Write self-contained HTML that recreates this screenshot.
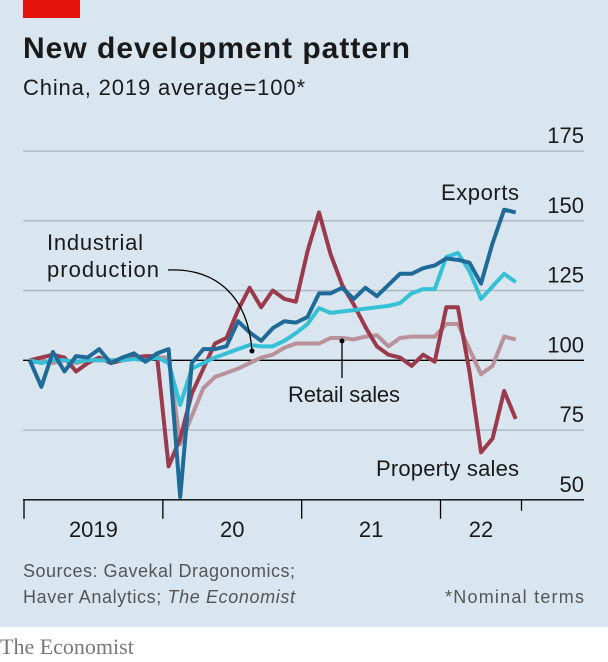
<!DOCTYPE html>
<html><head><meta charset="utf-8"><style>
body{margin:0;width:608px;height:662px;overflow:hidden;background:#fff;font-family:"Liberation Sans",sans-serif}
#bg{position:absolute;left:0;top:0;width:608px;height:627px;background:#d9e6ef}
</style></head><body>
<div id="bg"></div>
<svg width="608" height="662" style="position:absolute;left:0;top:0">
<rect x="23" y="0" width="57" height="18" fill="#e3120b"/>
<text x="23" y="58" font-size="30" font-weight="bold" fill="#1a1a1a" textLength="387">New development pattern</text>
<text x="23" y="95" font-size="22" fill="#1a1a1a" textLength="282">China, 2019 average=100*</text>
<g id="grid"></g>
<g id="lines"></g>
<g id="ann" font-size="22" fill="#1a1a1a">
<text x="441" y="200" textLength="78">Exports</text>
<text x="47" y="250" textLength="96">Industrial</text>
<text x="47" y="277" textLength="112">production</text>
<path d="M168,270 C215,268 248,295 252,351" fill="none" stroke="#000" stroke-width="1.3"/>
<circle cx="252" cy="351" r="2.5" fill="#000"/>
<text x="288" y="402" textLength="112">Retail sales</text>
<line x1="342" y1="378" x2="342" y2="341" stroke="#000" stroke-width="1.3"/>
<circle cx="342" cy="341" r="2.5" fill="#000"/>
<text x="376" y="476" textLength="143">Property sales</text>
</g>
<g id="xaxis" font-size="22" fill="#1a1a1a"></g>
<text x="23" y="577" font-size="18" fill="#555" textLength="272">Sources: Gavekal Dragonomics;</text>
<text x="23" y="603" font-size="18" fill="#555" textLength="272">Haver Analytics; <tspan font-style="italic">The Economist</tspan></text>
<text x="584" y="603" font-size="18" fill="#555" text-anchor="end" textLength="139">*Nominal terms</text>
<text x="0" y="654" font-size="22" fill="#777" font-family="Liberation Serif,serif">The Economist</text>
</svg>
<script>
const yTicks=[50,75,100,125,150,175];
const years=["2019","20","21","22"];
const exportsV=[100,90.5,103,96,101.5,101,104,99,101,102.5,99.5,102.5,104,51,99,104,104,105,114,110,107,111.5,114,113.5,115.5,124,124,126,122,126,123,127,131,131,133,134,136.5,136,135,127.5,142,154,153];
const industrialV=[100,99,100,100,99.5,100,100,100,100,100.5,100,101,99,84,97,99,101,102.5,104,105.5,105,105,107,109.7,113,118.7,117,117.5,118,118.5,119,119.5,120.5,124,125.5,125.5,137,138.5,132,122,126.5,131,128];
const retailV=[99,100,99,100,99,100,100,100,100,100.5,100,101,101,70,80,90,94,95.5,97,99,101,102,104.5,106,106,106,108,108,107.5,108.5,109,105,108,108.5,108.5,108.5,113,113,104,95,98,108.5,107.5];
const propertyV=[100,101,102,101,96,99,101,99,100,101,101.5,101.5,62,72,88,97,106,108,118,126,119,125,122,121,139,153,138,127,120,112,105,102,101,98,102,99.5,119,119,96,67,72,89,79];
const y=v=>360.3-(v-100)*2.79;
const x=i=>24+(i+0.5)*11.57;
const ns="http://www.w3.org/2000/svg";
const grid=document.getElementById('grid');
yTicks.forEach(t=>{
 if(t>50){const l=document.createElementNS(ns,'line');
 l.setAttribute('x1',23);l.setAttribute('x2',584);l.setAttribute('y1',y(t));l.setAttribute('y2',y(t));
 l.setAttribute('stroke',t===100?'#000':'#a9b6bf');l.setAttribute('stroke-width',1.3);
 
 
 grid.appendChild(l);}
 const tx=document.createElementNS(ns,'text');
 tx.setAttribute('x',584);tx.setAttribute('y',y(t)-8);tx.setAttribute('text-anchor','end');tx.setAttribute('font-size','22');tx.setAttribute('fill','#1a1a1a');
 tx.textContent=t;
 
 
 grid.appendChild(tx);
});
const ax=document.getElementById('xaxis');
const base=document.createElementNS(ns,'line');
base.setAttribute('x1',23);base.setAttribute('x2',584);base.setAttribute('y1',y(50));base.setAttribute('y2',y(50));base.setAttribute('stroke','#000');base.setAttribute('stroke-width',1.3);


ax.appendChild(base);
for(let k=0;k<=4;k++){
 const m=k<4?k*12:43;
 const xx=24+m*11.57;
 const t=document.createElementNS(ns,'line');
 t.setAttribute('x1',xx);t.setAttribute('x2',xx);t.setAttribute('y1',y(50));t.setAttribute('y2',y(50)+(k<4?19:11));t.setAttribute('stroke','#000');t.setAttribute('stroke-width',1.3);
 
 
 ax.appendChild(t);
}
years.forEach((yr,k)=>{
 const months=k<3?12:7;
 const tx=document.createElementNS(ns,'text');
 tx.setAttribute('x',24+(k*12+months/2)*11.57);tx.setAttribute('y',537);tx.setAttribute('text-anchor','middle');
 tx.textContent=yr;
 
 
 ax.appendChild(tx);
});
const lines=document.getElementById('lines');
[[retailV,'#b8919b','retail-sales-line'],[propertyV,'#9a3a4c','property-sales-line'],[industrialV,'#36c0d6','industrial-production-line'],[exportsV,'#1f6a99','exports-line']].forEach(([d,c,n])=>{
 const p=document.createElementNS(ns,'polyline');
 p.setAttribute('points',d.map((v,i)=>x(i)+','+y(v)).join(' '));
 p.setAttribute('fill','none');p.setAttribute('stroke',c);p.setAttribute('stroke-width',4);p.setAttribute('stroke-linejoin','round');
 
 
 lines.appendChild(p);
});
</script>
</body></html>
